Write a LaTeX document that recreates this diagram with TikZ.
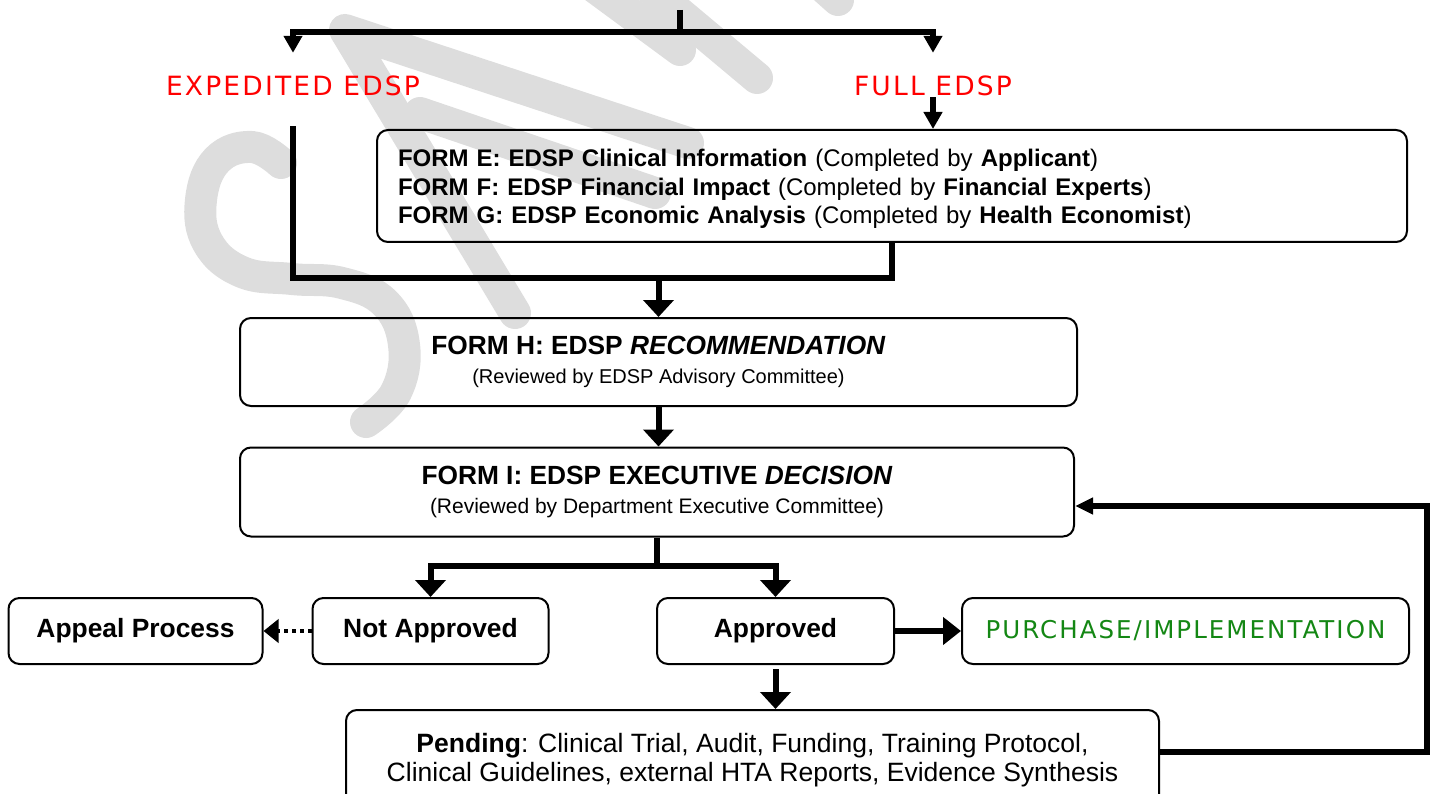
\documentclass[tikz,border=0pt]{standalone}
\usepackage{fontspec}
\setmainfont{Liberation Sans}
\newfontfamily\tagfont[LetterSpace=8.3]{DejaVu Sans}
\usetikzlibrary{arrows.meta}
\definecolor{tagred}{RGB}{255,0,0}
\definecolor{taggreen}{RGB}{20,135,20}
\definecolor{stamp}{RGB}{221,221,221}

\begin{document}
\begin{tikzpicture}[x=1pt,y=-1pt,
  box/.style={draw, line width=2pt, rounded corners=11pt, inner sep=0pt, align=center},
  flow/.style={line width=6pt},
  bighead/.style={-{Triangle[length=17pt,width=30pt]}},
  smallhead/.style={-{Triangle[length=17pt,width=18pt]}},
  sidehead/.style={-{Triangle[length=18pt,width=16pt]}},
  dotflow/.style={line width=4pt, dash pattern=on 4pt off 4pt, -{Triangle[length=15pt,width=23pt]}},
  tag/.style={inner sep=0pt, font=\tagfont\fontsize{26.5}{30}\selectfont},
  label/.style={font=\bfseries\fontsize{26.4}{30}\selectfont},
  stampstroke/.style={draw=stamp, line width=32pt, line cap=round, line join=round},
]
\useasboundingbox (0,0) rectangle (1437,794);

% background stamp lettering
\draw[stampstroke] plot[smooth, tension=0.7] coordinates
  {(281,163) (252,147) (217,160) (201,200) (208,243) (242,272) (292,279)
   (342,283) (385,303) (404,345) (396,392) (366,422)};
\draw[stampstroke] (515,313) -- (345,30) -- (688,143);
\draw[stampstroke] (420,113) -- (655,193);
\draw[stampstroke] (585,-20) -- (680,50);
\draw[stampstroke] (640,-20) -- (757,78);
\draw[stampstroke] (810,-25) -- (838,0);

% entry fork
\coordinate (src) at (680,10);
\coordinate (fork) at (680,32);
\node[tag, text=tagred, minimum height=66pt] (expedited) at (293,86) {EXPEDITED EDSP};
\node[tag, text=tagred, minimum height=66pt] (full) at (933,86) {FULL EDSP};

% forms
\node[box, align=left, text width=988pt, inner xsep=21pt, minimum height=112pt,
      font=\fontsize{24}{28.5}\selectfont] (forms) at (892,186)
  {\rule{0pt}{23pt}\textbf{FORM E: EDSP Clinical Information} (Completed by \textbf{Applicant})\\
   \textbf{FORM F: EDSP Financial Impact} (Completed by \textbf{Financial Experts})\\
   \textbf{FORM G: EDSP Economic Analysis} (Completed by \textbf{Health Economist})};

\node[box, minimum width=837pt, minimum height=88pt, font=\fontsize{20}{29}\selectfont]
  (recommend) at (658.5,362)
  {{\fontsize{26.3}{29}\selectfont\bfseries FORM H: EDSP \textit{RECOMMENDATION}}\\
   (Reviewed by EDSP Advisory Committee)};

\node[box, minimum width=834pt, minimum height=89pt, font=\fontsize{21}{29}\selectfont]
  (decision) at (657,492)
  {{\fontsize{26.3}{29}\selectfont\bfseries FORM I: EDSP EXECUTIVE \textit{DECISION}}\\
   (Reviewed by Department Executive Committee)};

% outcomes
\node[box, label, minimum width=254pt, minimum height=66pt] (appeal) at (135.5,631) {Appeal Process};
\node[box, label, minimum width=236pt, minimum height=66pt] (rejected) at (430.5,631) {Not Approved};
\node[box, label, minimum width=237pt, minimum height=66pt] (approved) at (775.5,631) {Approved};
\node[box, minimum width=447pt, minimum height=66pt, text=taggreen,
      font=\tagfont\fontsize{24.5}{30}\selectfont] (purchase) at (1185.5,631) {PURCHASE/IMPLEMENTATION};
\node[box, minimum width=813pt, minimum height=100pt, font=\fontsize{26.5}{29}\selectfont]
  (pending) at (752.5,760)
  {\textbf{Pending}: Clinical Trial, Audit, Funding, Training Protocol,\\
   Clinical Guidelines, external HTA Reports, Evidence Synthesis};

% connectors
\draw[flow] (src) -- (fork);
\draw[flow, smallhead] (fork) -| (expedited.north);
\draw[flow, smallhead] (fork) -| (full.north);
\draw[flow, smallhead] ([yshift=22pt]full.south) -- (forms.north -| full.south);

\coordinate (join) at (658.5,278);
\draw[flow] ([yshift=-7pt]expedited.south) |- (join);
\draw[flow] (forms.south) |- (join);
\draw[flow, bighead] (join) -- (recommend.north);

\draw[flow, bighead] (recommend.south) -- (recommend.south |- decision.north);

\coordinate (split) at (657,566);
\draw[flow] (decision.south) -- (split);
\draw[flow, bighead] (split) -| (rejected.north);
\draw[flow, bighead] (split) -| (approved.north);

\draw[dotflow] (rejected.west) -- (appeal.east);
\draw[flow, -{Triangle[length=18pt,width=27pt]}] (approved.east) -- (purchase.west);
\draw[flow, bighead] ([yshift=-4pt]approved.south) -- (approved.south |- pending.north);

\coordinate (loop) at (1427,506);
\draw[flow, sidehead] ([yshift=8pt]pending.east) -| (loop) -- (loop -| decision.east);
\end{tikzpicture}
\end{document}
